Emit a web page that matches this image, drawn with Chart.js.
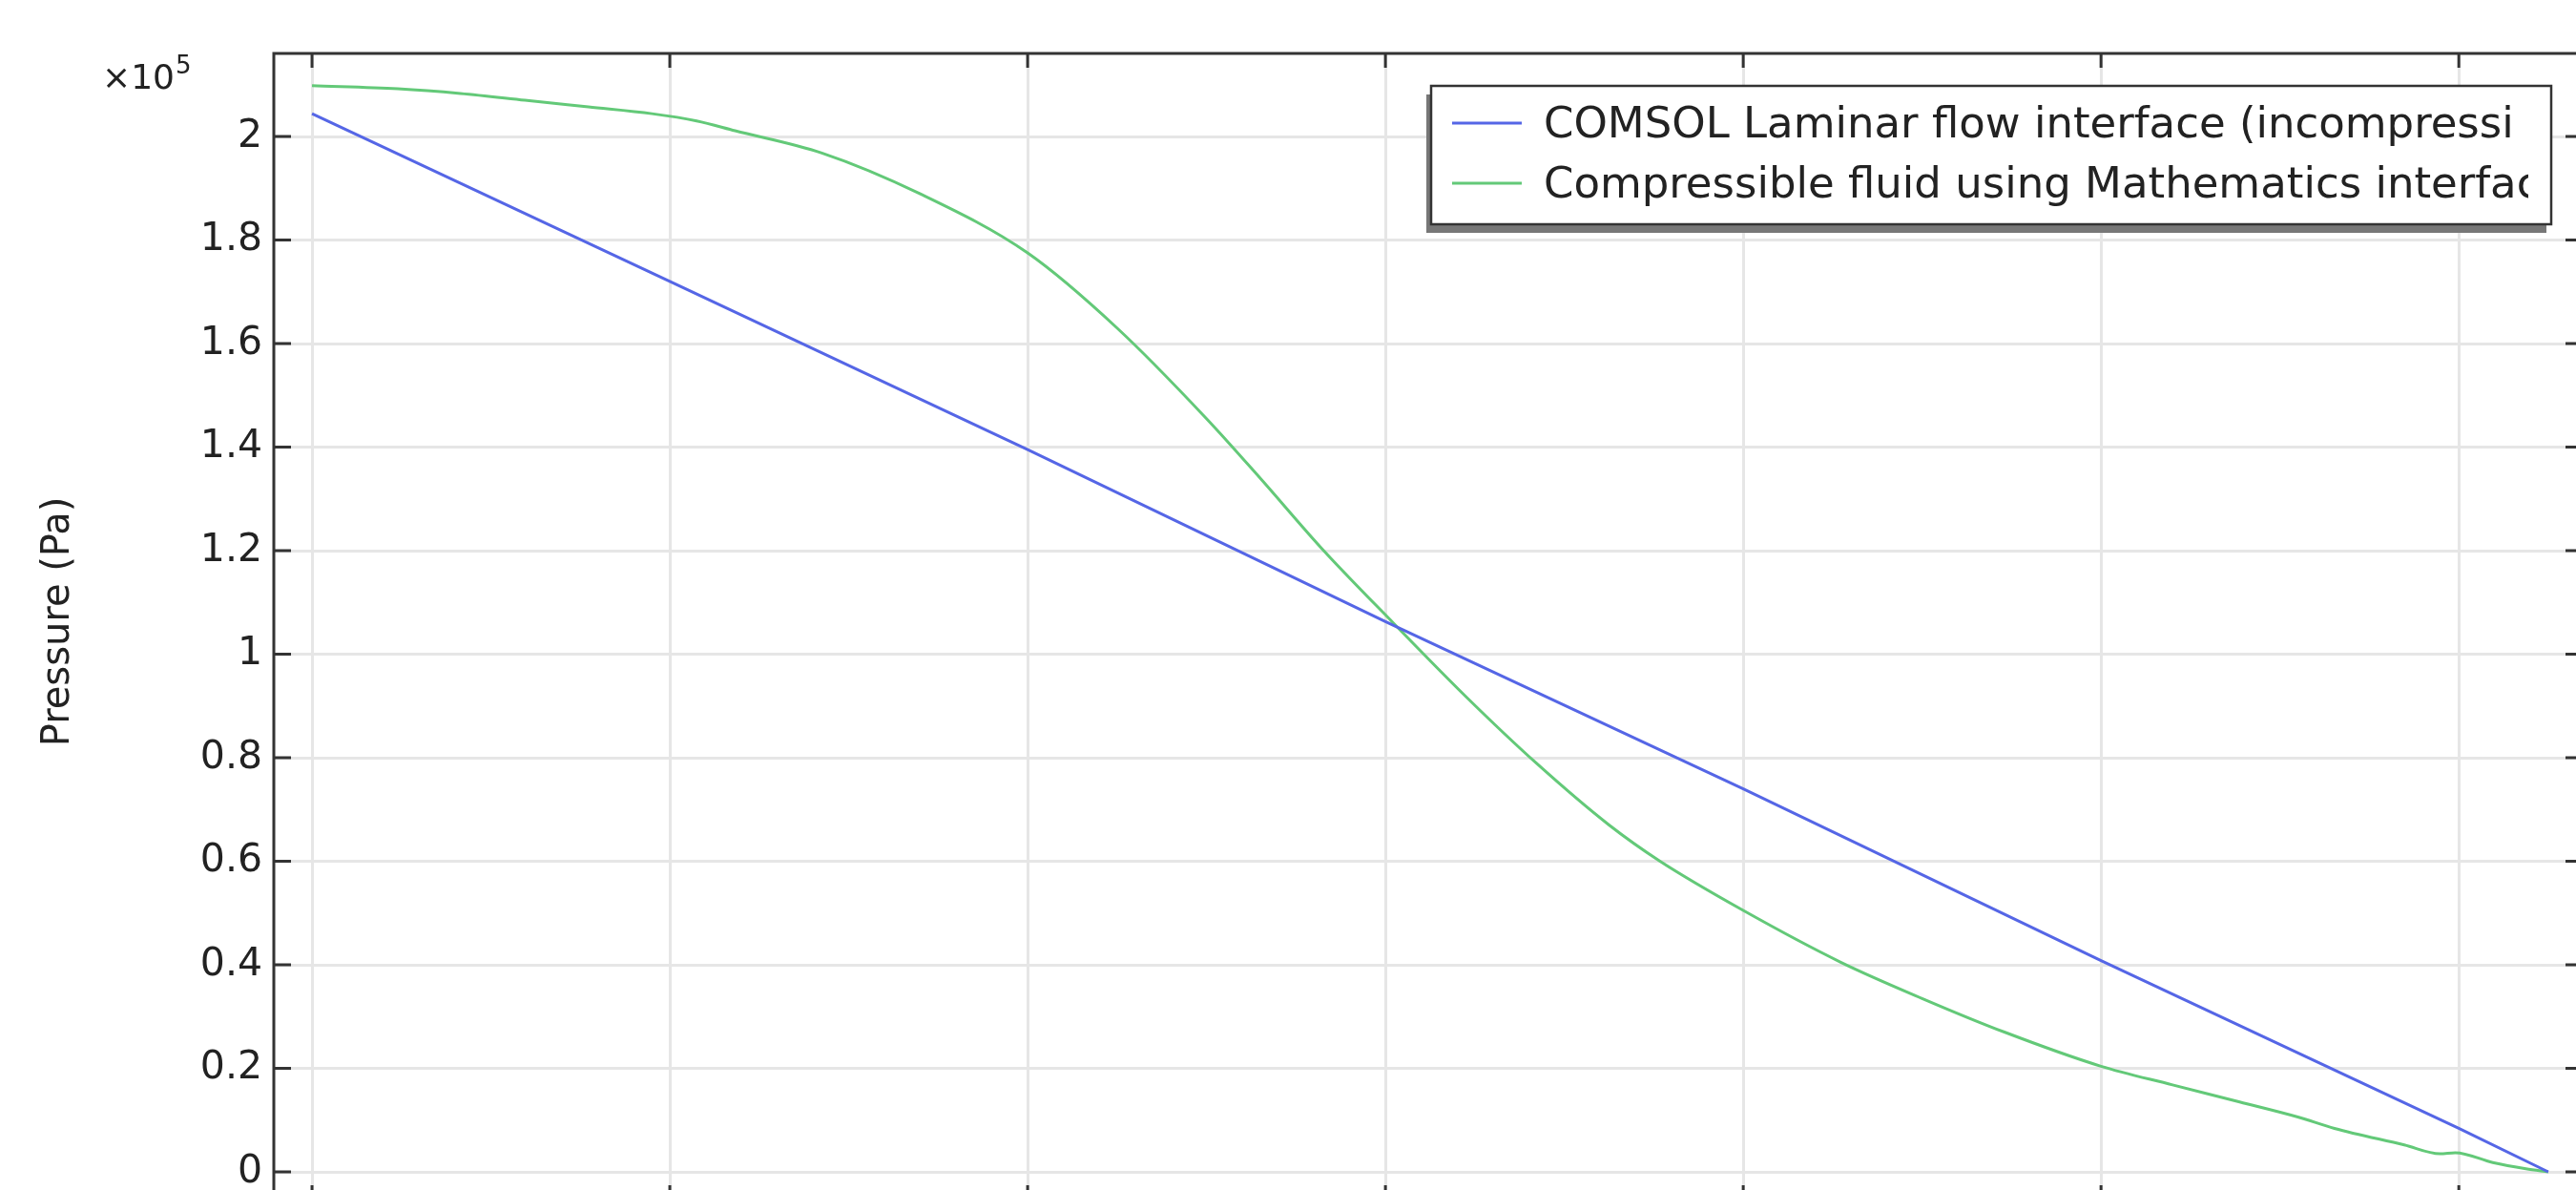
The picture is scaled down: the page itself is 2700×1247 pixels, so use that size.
<!DOCTYPE html>
<html>
<head>
<meta charset="utf-8">
<script src="https://cdn.jsdelivr.net/npm/chart.js@4.4.1/dist/chart.umd.min.js"></script>
<style>
  html, body { margin: 0; padding: 0; background: #fff; overflow: hidden; }
  #wrap { position: relative; width: 2700px; height: 1247px; }
</style>
</head>
<body>
<div id="wrap"><canvas id="chart"></canvas></div>
<script>
// x positions of the vertical grid lines (no x labels are visible in the picture)
var xTicks = [0, 4, 8, 12, 16, 20, 24];
// pressure ticks in Pa, shown as multiples of 1e5
var yTicks = [0, 20000, 40000, 60000, 80000, 100000, 120000, 140000, 160000, 180000, 200000];

// legend text as far as it is visible in the (cropped) legend box
var seriesNames = [
  'COMSOL Laminar flow interface (incompressi',
  'Compressible fluid using Mathematics interface'
];
var seriesColors = ['#5566e6', '#63c978'];

// incompressible (laminar flow) pressure
var laminarX = [0, 4, 8, 12, 16, 20, 24, 25];
var laminarP = [204400, 172000, 139500, 106300, 74000, 40800, 8400, 0];

// compressible fluid pressure
var compX = [0, 0.96, 1.66, 2.38, 3.09, 3.8, 4.3, 4.73, 5.7, 6.8, 8.0, 9.0, 10.0, 10.59,
             11.3, 12.09, 12.9, 13.69, 14.5, 15.07, 16.0, 17.09, 18.0, 18.92, 20.0, 20.8,
             21.55, 22.2, 22.61, 23.39, 23.79, 23.96, 24.38, 24.75, 25];
var compP = [209800, 209200, 208300, 207000, 205700, 204400, 203000, 201100, 196800, 188900,
             177500, 163000, 145500, 134200, 120200, 106000, 91800, 78900, 67000, 60000,
             50500, 40500, 33500, 27000, 20400, 16800, 13500, 10600, 8400, 5200, 3500, 3700,
             1800, 600, 0];

function pts(xs, ys) {
  return xs.map(function (x, i) { return { x: x, y: ys[i] }; });
}

var font = '"DejaVu Sans", "Liberation Sans", sans-serif';
var gridColor = '#e6e6e6';
var inkColor = '#222';
var frameColor = '#333';

// frame (the right and bottom edges lie just outside the picture), inward ticks,
// the x10^5 factor and the clipped legend box
var framePlugin = {
  id: 'comsolFrame',
  afterDraw: function (chart) {
    var ctx = chart.ctx, a = chart.chartArea;
    var xs = chart.scales.x, ys = chart.scales.y;
    ctx.save();

    ctx.strokeStyle = frameColor;
    ctx.lineWidth = 3;
    ctx.beginPath();
    ctx.moveTo(a.left, a.bottom);
    ctx.lineTo(a.left, a.top);
    ctx.lineTo(a.right, a.top);
    var outerBottom = a.bottom + 10, outerRight = a.right + 7;
    xTicks.forEach(function (t) {
      var px = xs.getPixelForValue(t);
      ctx.moveTo(px, a.top); ctx.lineTo(px, a.top + 15);
      ctx.moveTo(px, outerBottom); ctx.lineTo(px, outerBottom - 15);
    });
    yTicks.forEach(function (t) {
      var py = ys.getPixelForValue(t);
      ctx.moveTo(a.left, py); ctx.lineTo(a.left + 18, py);
      ctx.moveTo(outerRight, py); ctx.lineTo(outerRight - 18, py);
    });
    ctx.stroke();

    ctx.fillStyle = inkColor;
    ctx.textAlign = 'left';
    ctx.textBaseline = 'alphabetic';
    ctx.font = '36px ' + font;
    ctx.fillText('\u00d710', 107, a.top + 37);
    var w = ctx.measureText('\u00d710').width;
    ctx.font = '26px ' + font;
    ctx.fillText('5', 107 + w + 1, a.top + 21);

    // legend
    var bx = 1500, by = 90, bw = 1174, bh = 145;
    ctx.fillStyle = '#777';
    ctx.fillRect(bx - 5, by + 9, bw, bh);
    ctx.fillStyle = '#fff';
    ctx.fillRect(bx, by, bw, bh);
    ctx.strokeStyle = frameColor;
    ctx.lineWidth = 2.5;
    ctx.strokeRect(bx, by, bw, bh);

    ctx.save();
    ctx.beginPath();
    ctx.rect(bx, by, bw - 24, bh);
    ctx.clip();
    chart.data.datasets.forEach(function (ds, i) {
      var base = by + 54 + i * 63;
      ctx.strokeStyle = ds.borderColor;
      ctx.lineWidth = 3;
      ctx.beginPath();
      ctx.moveTo(bx + 22, base - 15);
      ctx.lineTo(bx + 95, base - 15);
      ctx.stroke();
      ctx.fillStyle = inkColor;
      ctx.font = '45px ' + font;
      ctx.fillText(ds.label, bx + 118, base);
    });
    ctx.restore();

    ctx.restore();
  }
};

new Chart(document.getElementById('chart'), {
  type: 'line',
  data: {
    datasets: [
      { label: seriesNames[0], data: pts(laminarX, laminarP), borderColor: seriesColors[0],
        borderWidth: 3, pointRadius: 0, tension: 0, fill: false },
      { label: seriesNames[1], data: pts(compX, compP), borderColor: seriesColors[1],
        borderWidth: 3, pointRadius: 0, cubicInterpolationMode: 'monotone', fill: false }
    ]
  },
  options: {
    responsive: true,
    maintainAspectRatio: false,
    animation: false,
    layout: { padding: { top: 56, right: 0, bottom: 0, left: 0 } },
    plugins: { legend: { display: false }, tooltip: { enabled: false } },
    scales: {
      x: {
        type: 'linear',
        min: -0.427,
        max: 25.31,
        afterBuildTicks: function (s) { s.ticks = xTicks.map(function (v) { return { value: v }; }); },
        afterFit: function (s) { s.height = 0; s.paddingLeft = 0; s.paddingRight = 0; },
        ticks: { display: false },
        grid: { color: gridColor, lineWidth: 3, drawTicks: false },
        border: { display: false }
      },
      y: {
        type: 'linear',
        min: -3502,
        max: 216037,
        afterBuildTicks: function (s) { s.ticks = yTicks.map(function (v) { return { value: v }; }); },
        afterFit: function (s) { s.width = 287; s.paddingTop = 0; s.paddingBottom = 0; },
        ticks: {
          color: inkColor,
          padding: 12,
          font: { family: font, size: 41 },
          callback: function (v) { return String(+(v / 1e5).toFixed(1)); }
        },
        title: {
          display: true,
          text: 'Pressure (Pa)',
          color: inkColor,
          font: { family: font, size: 40 },
          padding: { top: 38, bottom: 0 }
        },
        grid: { color: gridColor, lineWidth: 3, drawTicks: false },
        border: { display: false }
      }
    }
  },
  plugins: [framePlugin]
});
</script>
</body>
</html>
